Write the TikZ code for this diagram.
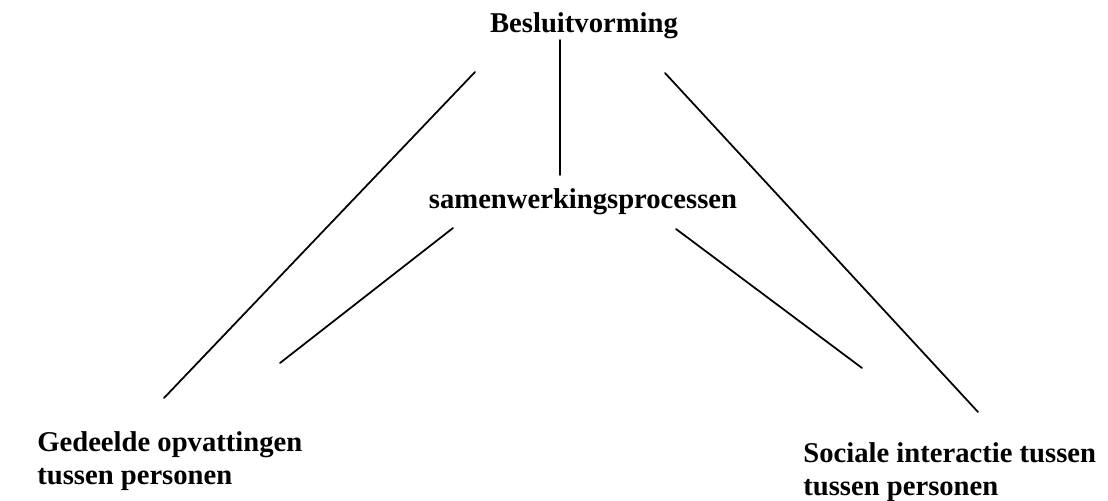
\documentclass[tikz,border=0pt]{standalone}
\usepackage{fontspec}
\setmainfont{Liberation Serif}
\usepackage{tikz}
\usetikzlibrary{positioning}

\begin{document}
\begin{tikzpicture}[
    x=0.02cm, y=-0.02cm,
    lbl/.style={font=\fontsize{16.3}{18.8}\selectfont\bfseries, inner sep=0pt, align=left},
    link/.style={line width=1pt, line cap=round},
  ]
  \useasboundingbox (0,0) rectangle (1108,500);

  % Top and middle labels
  \node[lbl, anchor=base] (besluit) at (584,33) {Besluitvorming};
  \node[lbl, anchor=base] (samen) at (583,208) {samenwerkingsprocessen};

  % Bottom labels
  \node[lbl, anchor=north west] (gedeeld) at (37,431) {Gedeelde opvattingen\\tussen personen};
  \node[lbl, anchor=north west] (sociaal) at (803,442) {Sociale interactie tussen\\tussen personen};

  % End points of the lines
  \coordinate (bl) at (475,72);
  \coordinate (br) at (665,73);
  \coordinate (bm) at (560,40);
  \coordinate (sm) at (560,175);
  \coordinate (sl) at (453,228);
  \coordinate (sr) at (676,229);
  \coordinate (gl) at (164,398);
  \coordinate (gi) at (280,363);
  \coordinate (si) at (862,368);
  \coordinate (sg) at (978,412);

  \draw[link] (bl) -- (gl);
  \draw[link] (br) -- (sg);
  \draw[link] (bm) -- (sm);
  \draw[link] (sl) -- (gi);
  \draw[link] (sr) -- (si);
\end{tikzpicture}
\end{document}
